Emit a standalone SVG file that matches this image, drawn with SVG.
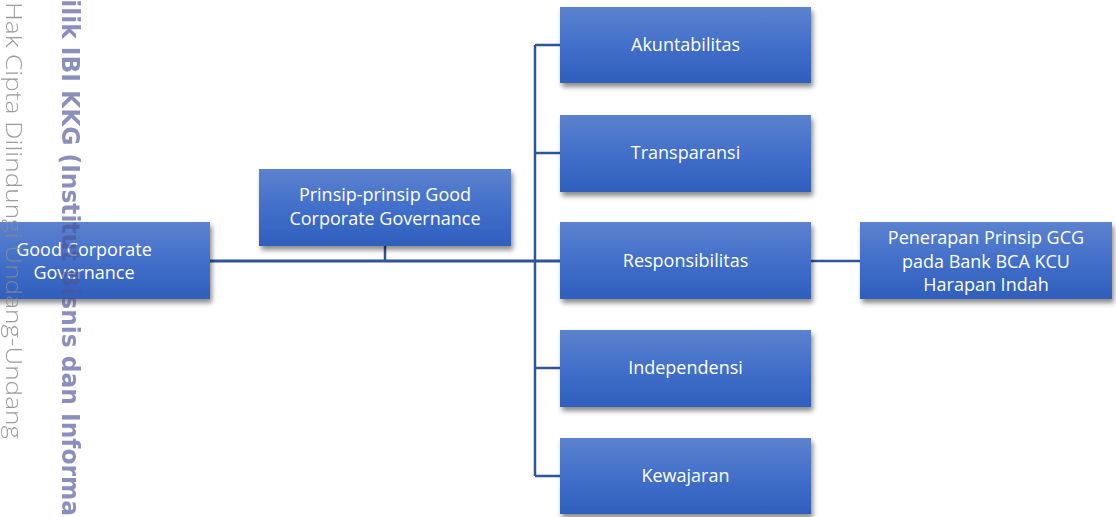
<svg xmlns="http://www.w3.org/2000/svg" width="1116" height="517" viewBox="0 0 1116 517">
<defs>
<linearGradient id="g" x1="0" y1="0" x2="0" y2="1">
<stop offset="0" stop-color="#5c82ce"/>
<stop offset="0.5" stop-color="#426fca"/>
<stop offset="1" stop-color="#2f5fbd"/>
</linearGradient>
<filter id="sh" x="-10%" y="-10%" width="125%" height="135%">
<feDropShadow dx="2" dy="4" stdDeviation="2.5" flood-color="#000" flood-opacity="0.45"/>
</filter>
</defs>
<style>
.box{fill:url(#g);filter:url(#sh);}
.lbl{font-family:"Open Sans","Noto Sans",sans-serif;font-size:18px;fill:#ffffff;text-anchor:middle;}
.ln{stroke:#2f5597;stroke-width:2.5;fill:none;}
.wm1{font-family:"Open Sans","Noto Sans",sans-serif;font-weight:300;font-size:22px;fill:#8a8a8a;opacity:0.85;}
.wm2{font-family:"DejaVu Sans",sans-serif;font-weight:bold;font-size:24px;fill:#4d5598;opacity:0.65;}
</style>
<rect width="1116" height="517" fill="#ffffff"/>
<g id="connectors">
<path class="ln" d="M210 261 H560" style="stroke-width:3"/>
<path class="ln" d="M385 246 V261"/>
<path class="ln" d="M535 45 V476"/>
<path class="ln" d="M535 45 H560 M535 153 H560 M535 368 H560 M535 476 H560"/>
<path class="ln" d="M811 261 H860"/>
</g>
<g id="n-gcg">
<rect class="box" x="-42" y="222" width="252" height="77"/>
<text class="lbl" x="84" y="256">Good Corporate</text>
<text class="lbl" x="84" y="279">Governance</text>
</g>
<g id="n-prinsip">
<rect class="box" x="259" y="169" width="252" height="77"/>
<text class="lbl" x="385" y="201">Prinsip-prinsip Good</text>
<text class="lbl" x="385" y="225">Corporate Governance</text>
</g>
<g id="n-akun">
<rect class="box" x="560" y="7" width="251" height="76"/>
<text class="lbl" x="685.5" y="51">Akuntabilitas</text>
</g>
<g id="n-trans">
<rect class="box" x="560" y="115" width="251" height="77"/>
<text class="lbl" x="685.5" y="159">Transparansi</text>
</g>
<g id="n-resp">
<rect class="box" x="560" y="222" width="251" height="77"/>
<text class="lbl" x="685.5" y="267">Responsibilitas</text>
</g>
<g id="n-indep">
<rect class="box" x="560" y="330" width="251" height="77"/>
<text class="lbl" x="685.5" y="374">Independensi</text>
</g>
<g id="n-kewa">
<rect class="box" x="560" y="438" width="251" height="76"/>
<text class="lbl" x="685.5" y="482">Kewajaran</text>
</g>
<g id="n-pener">
<rect class="box" x="860" y="222" width="252" height="77"/>
<text class="lbl" x="986" y="244">Penerapan Prinsip GCG</text>
<text class="lbl" x="986" y="268">pada Bank BCA KCU</text>
<text class="lbl" x="986" y="291">Harapan Indah</text>
</g>
<g id="watermark">
<text class="wm1" transform="translate(6,2) rotate(90)" textLength="437" lengthAdjust="spacingAndGlyphs">Hak Cipta Dilindungi Undang-Undang</text>
<text class="wm2" transform="translate(62,-24) rotate(90)" textLength="540" lengthAdjust="spacingAndGlyphs">Milik IBI KKG (Institut Bisnis dan Informa</text>
</g>
</svg>
